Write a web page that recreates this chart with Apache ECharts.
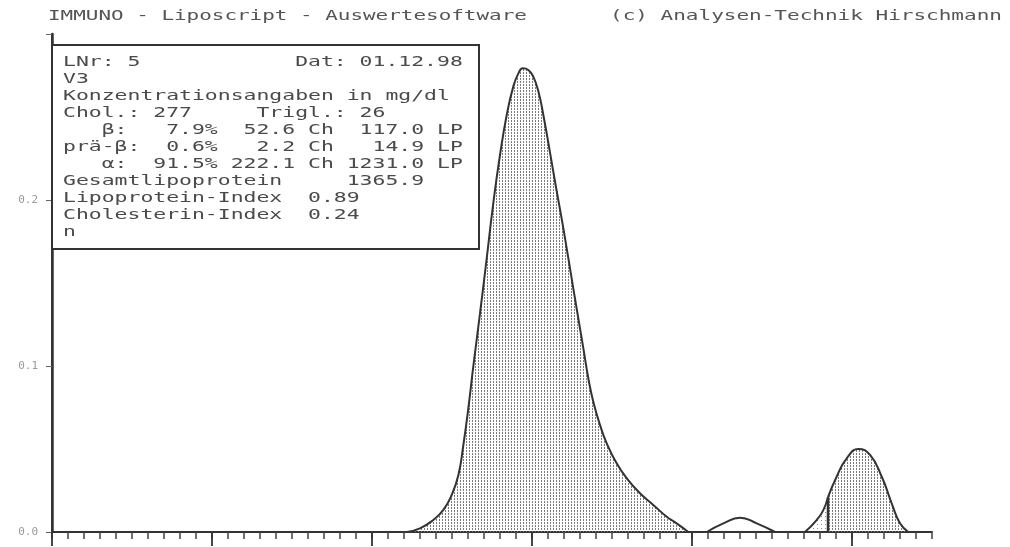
<!DOCTYPE html>
<html><head><meta charset="utf-8">
<script src="https://cdn.jsdelivr.net/npm/echarts@6/dist/echarts.min.js"></script>
<style>html,body{margin:0;padding:0;background:#fff}#c{width:1010px;height:547px}</style>
</head><body><div id="c"></div>
<script>
// ---------- texts ----------
const titleLeft = 'IMMUNO - Liposcript - Auswertesoftware';
const titleRight = '(c) Analysen-Technik Hirschmann';
const boxLines = [
  'LNr: 5            Dat: 01.12.98',
  'V3',
  'Konzentrationsangaben in mg/dl',
  'Chol.: 277     Trigl.: 26',
  '   β:   7.9%  52.6 Ch  117.0 LP',
  'prä-β:  0.6%   2.2 Ch   14.9 LP',
  '   α:  91.5% 222.1 Ch 1231.0 LP',
  'Gesamtlipoprotein     1365.9',
  'Lipoprotein-Index  0.89',
  'Cholesterin-Index  0.24',
  'n'
];
// ---------- axes ----------
const yLabels = ['0.0', '0.1', '0.2', ''];   // at 0, 0.1, 0.2, 0.3
const majorTicks = [0, 10, 20, 30, 40, 50];
// ---------- data ----------
const peak1X = [22.17, 23.0, 23.83, 24.46, 24.98, 25.40, 25.71, 26.02, 26.33, 26.75, 27.17, 27.58, 28.0, 28.42, 28.83, 29.15, 29.42,
                29.77, 30.08, 30.40, 30.71, 31.44, 31.96, 32.58, 33.21, 33.52, 33.83, 34.25, 34.67, 35.29, 35.92, 36.75, 37.58, 38.42, 39.04, 39.77];
const peak1Y = [0, 0.0022, 0.0072, 0.0133, 0.0223, 0.0343, 0.0524, 0.0745, 0.0996, 0.1317, 0.1649, 0.198, 0.2271, 0.2512, 0.2683, 0.2763, 0.2793,
                0.2783, 0.2743, 0.2653, 0.2512, 0.211, 0.1829, 0.1468, 0.1106, 0.0926, 0.0785, 0.0645, 0.0534, 0.0414, 0.0324, 0.0233, 0.0163, 0.0092, 0.0052, 0];
const bumpX = [40.92, 41.96, 43.0, 44.04, 45.19];
const bumpY = [0, 0.0052, 0.0086, 0.0052, 0];
const peak2aX = [47.06, 47.79, 48.2, 48.5];
const peak2aY = [0, 0.0072, 0.013, 0.021];
const peak2bX = [48.5, 49.04, 49.67, 50.4, 51.13, 51.86, 52.48, 53.0, 53.52];
const peak2bY = [0.021, 0.0333, 0.0444, 0.05, 0.0464, 0.0333, 0.0173, 0.0052, 0];
const dividerX = [48.5, 48.5];
const dividerY = [0, 0.021];

function zip(xs, ys) { return xs.map((x, i) => [x, ys[i]]); }
function dots(step, color, n) {
  const c = document.createElement('canvas');
  c.width = step; c.height = step;
  const g = c.getContext('2d');
  g.fillStyle = color;
  for (let k = 0; k < n; k++) g.fillRect(1, k, 1, 1);
  return c;
}
const dense = { image: dots(3, '#7a7a7a', 2), repeat: 'repeat' };
const light = { image: dots(4, '#8a8a8a', 1), repeat: 'repeat' };

const chart = echarts.init(document.getElementById('c'), null, { renderer: 'canvas' });
const FONT = '"DejaVu Sans Mono", monospace';
const textEls = boxLines.map((t, i) => ({
  type: 'text', x: 63, y: 62 + 17 * i, scaleX: 1.53, z: 20,
  style: { text: t, font: '14px ' + FONT, fill: '#4a4a4a', textVerticalAlign: 'middle', verticalAlign: 'middle' }
}));
const lineStyle = { color: '#333', width: 2 };
const base = { type: 'line', symbol: 'none', smooth: 0.5, silent: true, lineStyle, z: 3 };

chart.setOption({
  animation: false,
  backgroundColor: '#fff',
  grid: { left: 52, right: 78, top: 34, bottom: 15 },
  xAxis: [
    { type: 'value', min: 0, max: 55, interval: 1,
      axisLine: { show: true, lineStyle: { color: '#333', width: 2 } },
      axisTick: { show: true, length: 7, lineStyle: { color: '#444', width: 1.5 } },
      axisLabel: { show: false }, splitLine: { show: false } },
    { type: 'value', min: 0, max: 55, position: 'bottom',
      axisLine: { show: false },
      axisTick: { show: true, length: 14, customValues: majorTicks, lineStyle: { color: '#333', width: 1.8 } },
      axisLabel: { show: false }, splitLine: { show: false } }
  ],
  yAxis: [
    { type: 'value', min: 0, max: 0.3, interval: 0.1,
      axisLine: { show: true, lineStyle: { color: '#333', width: 2.5 } },
      axisTick: { show: true, length: 6, lineStyle: { color: '#666', width: 1 } },
      axisLabel: { fontSize: 11, color: '#999', margin: 14, fontFamily: FONT,
        formatter: v => yLabels[Math.round(v * 10)] },
      splitLine: { show: false } },
    { type: 'value', min: 0, max: 0.3, position: 'right',
      axisLine: { show: true, lineStyle: { color: '#333', width: 2 } },
      axisTick: { show: false }, axisLabel: { show: false }, splitLine: { show: false } }
  ],
  series: [
    Object.assign({}, base, { data: zip(peak1X, peak1Y), areaStyle: { color: dense, opacity: 1 } }),
    Object.assign({}, base, { data: zip(bumpX, bumpY) }),
    Object.assign({}, base, { data: zip(peak2aX, peak2aY), areaStyle: { color: light, opacity: 1 } }),
    Object.assign({}, base, { data: zip(peak2bX, peak2bY), areaStyle: { color: dense, opacity: 1 } }),
    Object.assign({}, base, { smooth: false, data: zip(dividerX, dividerY), lineStyle: { color: '#333', width: 2.5 } })
  ],
  graphic: [
    { type: 'text', x: 48, y: 16, scaleX: 1.495, z: 20,
      style: { text: titleLeft, font: '14px ' + FONT, fill: '#555', textVerticalAlign: 'middle', verticalAlign: 'middle' } },
    { type: 'text', x: 610, y: 16, scaleX: 1.5, z: 20,
      style: { text: titleRight, font: '14px ' + FONT, fill: '#555', textVerticalAlign: 'middle', verticalAlign: 'middle' } },
    { type: 'rect', z: 15, shape: { x: 52, y: 45, width: 427, height: 204 },
      style: { fill: '#fff', stroke: '#333', lineWidth: 2 } }
  ].concat(textEls)
});
</script></body></html>
